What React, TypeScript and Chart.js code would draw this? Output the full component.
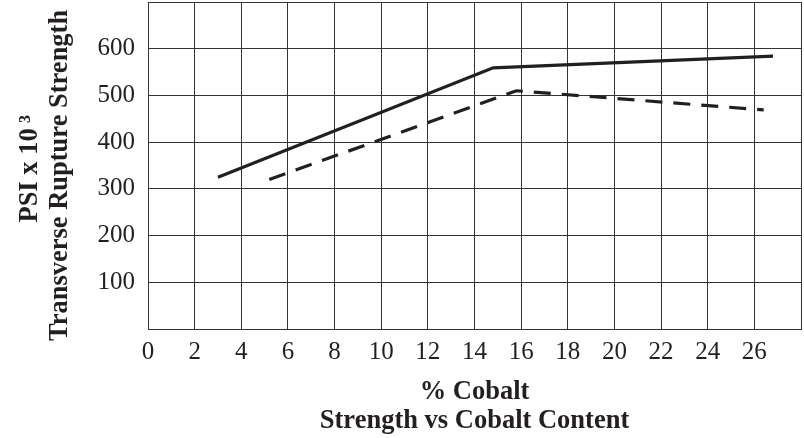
import React, { useEffect, useRef } from "react";
import { Chart, registerables } from "chart.js";

Chart.register(...registerables);

const solidX = [3, 14.8, 26.8];
const solidY = [325, 559, 584];
const dashedX = [5.2, 15.8, 26.4];
const dashedY = [320, 510, 469];

const xTicksMax = 28;
const yTicksMax = 700;
const yTitleLines = ["PSI x 10\u2009\u00B3 ", "Transverse Rupture Strength   "];
const xTitleLines = ["% Cobalt", "Strength vs Cobalt Content"];

const INK = "#231f20";
const GRID = "#333333";
const FAMILY = "'Liberation Serif', 'Times New Roman', serif";

export default function App() {
  const ref = useRef<HTMLCanvasElement | null>(null);

  useEffect(() => {
    document.body.style.margin = "0";
    const canvas = ref.current;
    if (!canvas) return;
    const chart = new Chart(canvas, {
      type: "line",
      data: {
        datasets: [
          {
            data: solidX.map((x, i) => ({ x, y: solidY[i] })),
            borderColor: INK,
            borderWidth: 3.2,
            pointRadius: 0,
            tension: 0,
            fill: false,
          },
          {
            data: dashedX.map((x, i) => ({ x, y: dashedY[i] })),
            borderColor: INK,
            borderWidth: 3.2,
            borderDash: [17, 11],
            pointRadius: 0,
            tension: 0,
            fill: false,
          },
        ],
      },
      options: {
        responsive: false,
        animation: false,
        events: [],
        layout: { padding: { top: 2, right: 3, bottom: 0, left: 0 } },
        plugins: { legend: { display: false }, tooltip: { enabled: false } },
        scales: {
          x: {
            type: "linear",
            min: 0,
            max: xTicksMax,
            grid: { color: GRID, lineWidth: 1, drawTicks: false },
            border: { color: GRID, width: 1 },
            ticks: {
              stepSize: 2,
              padding: 8,
              color: INK,
              font: { family: FAMILY, size: 25 },
              callback: (v: any) => (v === xTicksMax ? "" : String(v)),
            },
            title: {
              display: true,
              text: xTitleLines,
              color: INK,
              font: { family: FAMILY, size: 26.5, weight: "bold", lineHeight: 1.113 },
              padding: { top: 10, bottom: 2 },
            },
            afterFit: (s: any) => {
              s.height = 109;
              s.paddingLeft = 0;
              s.paddingRight = 0;
            },
          },
          y: {
            type: "linear",
            min: 0,
            max: yTicksMax,
            grid: { color: GRID, lineWidth: 1, drawTicks: false },
            border: { color: GRID, width: 1 },
            ticks: {
              stepSize: 100,
              padding: 13,
              color: INK,
              font: { family: FAMILY, size: 25 },
              callback: (v: any) => (v === 0 || v === yTicksMax ? "" : String(v)),
            },
            title: {
              display: true,
              text: yTitleLines,
              color: INK,
              font: { family: FAMILY, size: 26.5, weight: "bold", lineHeight: 1.132 },
              padding: { top: 15.5, bottom: 0 },
            },
            afterFit: (s: any) => {
              s.width = 148;
              s.paddingTop = 0;
              s.paddingBottom = 0;
            },
          },
        },
      },
    });
    return () => chart.destroy();
  }, []);

  return (
    <div style={{ width: 804, height: 438 }}>
      <canvas ref={ref} width={804} height={438} style={{ display: "block" }} />
    </div>
  );
}
